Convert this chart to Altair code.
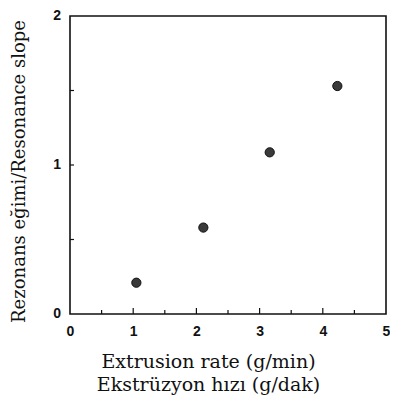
import altair as alt
import pandas as pd

# data
rate = [1.05, 2.11, 3.16, 4.23]
slope = [0.21, 0.58, 1.085, 1.53]

x_labels = [0, 1, 2, 3, 4, 5]
y_labels = [0, 1, 2]
x_major = [1, 2, 3, 4]
x_minor = [0.5, 1.5, 2.5, 3.5, 4.5]
y_ticks = [0.5, 1.0, 1.5]

x_title = ["Extrusion rate (g/min)", "Ekstrüzyon hızı (g/dak)"]
y_title = "Rezonans eğimi/Resonance slope"

W, H = 316, 298

xs = alt.Scale(domain=[0, 5], nice=False, zero=False)
ys = alt.Scale(domain=[0, 2], nice=False, zero=False)

x_axis = alt.Axis(
    values=x_labels, title=x_title, labelPadding=10, format="d",
    titleX=138, titleY=53, titleBaseline="alphabetic", titleAlign="center",
    titleLineHeight=23, labelFlush=False, labelOverlap=False)
y_axis = alt.Axis(
    values=y_labels, title=y_title, labels=False, titleFontSize=18,
    titleX=-46, titleY=155, titleAngle=-90, titleBaseline="alphabetic",
    titleAlign="center")

points = alt.Chart(pd.DataFrame({"rate": rate, "slope": slope})).mark_circle(
    size=85, color="#3a3a3a", stroke="#111", strokeWidth=1, opacity=1
).encode(
    x=alt.X("rate:Q", scale=xs, axis=x_axis),
    y=alt.Y("slope:Q", scale=ys, axis=y_axis),
)

xmaj = alt.Chart(pd.DataFrame({"rate": x_major})).mark_rule(color="#111", strokeWidth=1.2).encode(
    x=alt.X("rate:Q", scale=xs, axis=x_axis), y=alt.value(H), y2=alt.value(H - 6))
xmin = alt.Chart(pd.DataFrame({"rate": x_minor})).mark_rule(color="#111", strokeWidth=1.2).encode(
    x=alt.X("rate:Q", scale=xs, axis=x_axis), y=alt.value(H), y2=alt.value(H - 4))
yt = alt.Chart(pd.DataFrame({"slope": y_ticks})).mark_rule(color="#111", strokeWidth=1.2).encode(
    y=alt.Y("slope:Q", scale=ys, axis=y_axis), x=alt.value(0), x2=alt.value(4))
ylab = alt.Chart(pd.DataFrame({"slope": y_labels, "txt": [str(v) for v in y_labels]})).mark_text(
    align="right", baseline="middle", font="Liberation Sans", fontWeight="bold",
    fontSize=14, color="#111"
).encode(
    y=alt.Y("slope:Q", scale=ys, axis=y_axis), x=alt.value(-9), text="txt:N")

chart = alt.layer(points, xmaj, xmin, yt, ylab).properties(
    width=W, height=H,
    autosize=alt.AutoSizeParams(type="none"),
    padding={"left": 62, "top": 8, "right": 4, "bottom": 82},
).configure(background="white").configure_view(
    stroke="#111", strokeWidth=1.6
).configure_axis(
    labelFont="Liberation Sans", labelFontWeight="bold", labelFontSize=14,
    labelColor="#111", domain=False, ticks=False, grid=False,
    titleFont="DejaVu Serif", titleFontSize=19, titleFontWeight="normal",
    titleColor="#111",
)

chart.save("out.html", embed_options={"renderer": "svg", "actions": False})
